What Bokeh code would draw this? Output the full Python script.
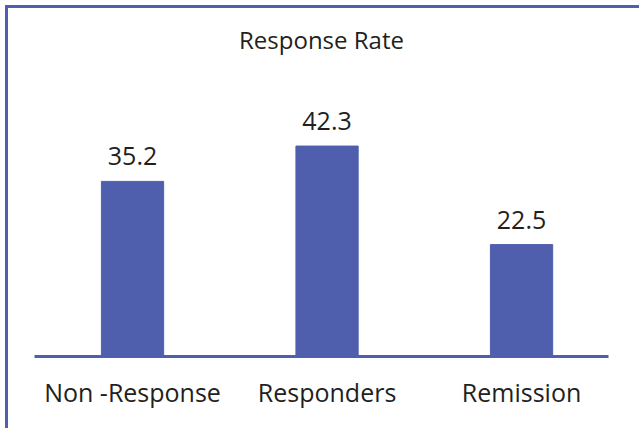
from bokeh.plotting import figure
from bokeh.models import Range1d, FixedTicker, ColumnDataSource, LabelSet
from bokeh.core.properties import value
from bokeh.embed import file_html
from bokeh.resources import INLINE

categories = ["Non -Response", "Responders", "Remission"]
values = [35.2, 42.3, 22.5]
value_labels = ["35.2", "42.3", "22.5"]

BLUE = "#4f5fad"
TEXT = "#231f20"
FONT = "Open Sans"

xs = list(range(len(categories)))
src = ColumnDataSource(dict(x=xs, top=values, lab=value_labels))

p = figure(width=639, height=428, output_backend="svg", toolbar_location=None,
           x_range=Range1d(-0.504, 2.447), y_range=Range1d(0, 59.5),
           min_border_left=34, min_border_right=31, min_border_bottom=72,
           min_border_top=60,
           styles={"box-shadow": "inset 5px 5px 0 0 #ffffff, inset 8px 8px 0 0 " + BLUE})
p.border_fill_color = None
p.background_fill_color = None

p.vbar(x="x", top="top", width=0.32, bottom=0, source=src, color=BLUE)

labels = LabelSet(x="x", y="top", text="lab", source=src, text_align="center",
                  text_baseline="alphabetic", y_offset=16,
                  text_font=value(FONT), text_font_size="25px", text_color=TEXT)
p.add_layout(labels)

p.title.text = "Response Rate"
p.title.align = "center"
p.title.text_font = FONT
p.title.text_font_size = "24px"
p.title.text_font_style = "normal"
p.title.text_color = TEXT

p.yaxis.visible = False
p.xgrid.visible = False
p.ygrid.visible = False
p.outline_line_color = None

ax = p.xaxis[0]
ax.ticker = FixedTicker(ticks=xs)
ax.major_label_overrides = {i: c for i, c in enumerate(categories)}
ax.axis_line_color = BLUE
ax.axis_line_width = 3
ax.major_tick_line_color = None
ax.minor_tick_line_color = None
ax.major_label_standoff = 12
ax.major_label_text_font = FONT
ax.major_label_text_font_size = "25px"
ax.major_label_text_color = TEXT

open("out.html", "w").write(file_html(p, INLINE))
